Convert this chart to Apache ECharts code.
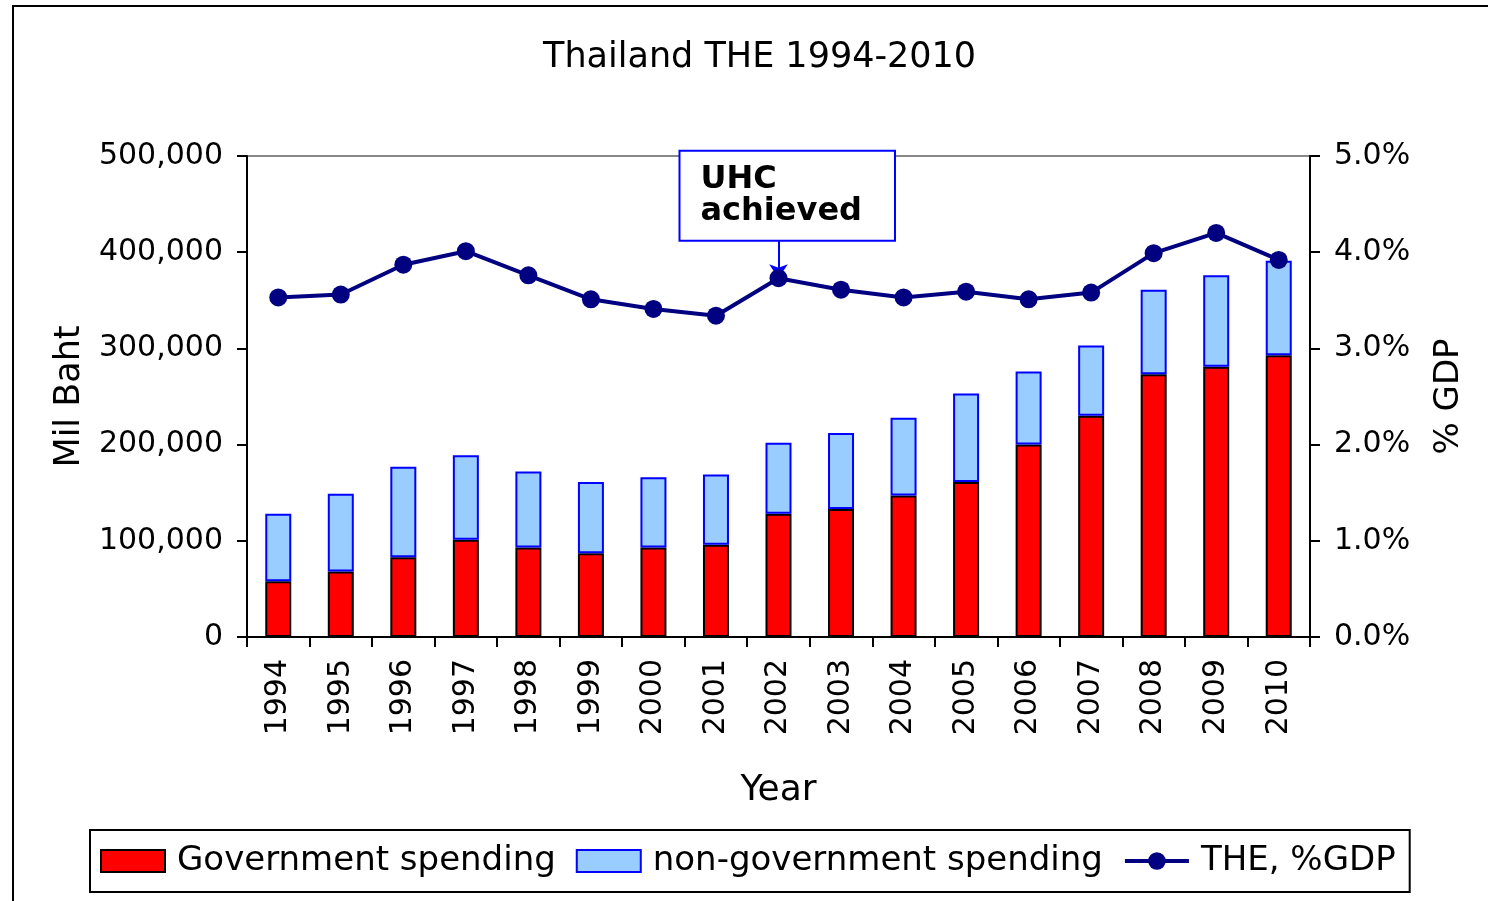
<!DOCTYPE html>
<html>
<head>
<meta charset="utf-8">
<title>Thailand THE 1994-2010</title>
<script src="https://cdn.jsdelivr.net/npm/echarts@6/dist/echarts.min.js"></script>
<style>
  html, body { margin: 0; padding: 0; background: #fff; }
  #frame {
    position: absolute; left: 12px; top: 5px;
    width: 1500px; height: 1000px;
    border: 2px solid #000; box-sizing: border-box;
  }
  #chart { position: absolute; left: 0; top: 0; width: 1488px; height: 901px; }
</style>
</head>
<body>
<div id="frame"></div>
<div id="chart"></div>
<script>
// 年份
const years = ['1994', '1995', '1996', '1997', '1998', '1999', '2000', '2001', '2002',
  '2003', '2004', '2005', '2006', '2007', '2008', '2009', '2010'];

// 政府支出 (Mil Baht)
const govSpending = [58000, 68000, 83000, 101000, 93000, 87000, 93000, 96000, 128000,
  133000, 147000, 161000, 200000, 230000, 273000, 281000, 293000];

// 非政府支出 (Mil Baht)
const nonGovSpending = [70000, 81000, 94000, 88000, 79000, 74000, 73000, 73000, 74000,
  79000, 81000, 92000, 76000, 73000, 88000, 95000, 98000];

// THE 占 GDP 百分比
const theGdp = [3.53, 3.56, 3.87, 4.01, 3.76, 3.51, 3.41, 3.34, 3.73,
  3.61, 3.53, 3.59, 3.51, 3.58, 3.99, 4.20, 3.92];

// 左右轴刻度
const leftTicks = [0, 100000, 200000, 300000, 400000, 500000];
const rightTicks = [0, 1, 2, 3, 4, 5];

// UHC 标注
const uhcYear = '2002';
const uhcLabelTop = 4.13;

const font = 'DejaVu Sans';
const uhcIndex = years.indexOf(uhcYear);

const chart = echarts.init(document.getElementById('chart'));
chart.setOption({
  animation: false,
  backgroundColor: 'transparent',
  textStyle: { fontFamily: font, color: '#000' },
  title: {
    text: 'Thailand THE 1994-2010',
    left: 538,
    top: 35,
    textStyle: { fontFamily: font, fontSize: 35, fontWeight: 'normal', color: '#000' }
  },
  legend: {
    left: 90,
    top: 830,
    padding: [14, 14, 14, 10],
    borderColor: '#000',
    borderWidth: 2,
    itemWidth: 64,
    itemHeight: 22,
    itemGap: 20,
    textStyle: { fontFamily: font, fontSize: 34, color: '#000', padding: [0, 0, 0, 7] },
    data: [
      { name: 'Government spending', icon: 'rect' },
      { name: 'non-government spending', icon: 'rect' },
      { name: 'THE, %GDP', lineStyle: { width: 4 } }
    ]
  },
  grid: {
    left: 247,
    right: 178,
    top: 156,
    bottom: 264,
    show: true,
    borderColor: '#888',
    borderWidth: 2
  },
  xAxis: {
    type: 'category',
    data: years,
    name: 'Year',
    nameLocation: 'middle',
    nameGap: 136,
    nameTextStyle: { fontFamily: font, fontSize: 36, color: '#000' },
    axisLine: { lineStyle: { color: '#000', width: 2 } },
    axisTick: { show: true, length: 10, lineStyle: { color: '#000', width: 2 } },
    axisLabel: { rotate: 90, margin: 22, fontFamily: font, fontSize: 30, color: '#000' }
  },
  yAxis: [
    {
      type: 'value',
      min: leftTicks[0],
      max: leftTicks[leftTicks.length - 1],
      interval: leftTicks[1] - leftTicks[0],
      name: 'Mil Baht',
      nameLocation: 'middle',
      nameRotate: 90,
      nameGap: 160,
      nameTextStyle: { fontFamily: font, fontSize: 35, color: '#000' },
      axisLine: { show: true, lineStyle: { color: '#000', width: 2 } },
      axisTick: { show: true, length: 10, lineStyle: { color: '#000', width: 2 } },
      splitLine: { show: false },
      axisLabel: {
        margin: 24,
        fontFamily: font,
        fontSize: 30,
        color: '#000',
        formatter: v => v.toLocaleString('en-US')
      }
    },
    {
      type: 'value',
      min: rightTicks[0],
      max: rightTicks[rightTicks.length - 1],
      interval: rightTicks[1] - rightTicks[0],
      name: '% GDP',
      nameLocation: 'middle',
      nameRotate: 90,
      nameGap: 122,
      nameTextStyle: { fontFamily: font, fontSize: 34, color: '#000' },
      axisLine: { show: true, lineStyle: { color: '#000', width: 2 } },
      axisTick: { show: true, length: 10, lineStyle: { color: '#000', width: 2 } },
      splitLine: { show: false },
      axisLabel: {
        margin: 24,
        fontFamily: font,
        fontSize: 30,
        color: '#000',
        formatter: v => v.toFixed(1) + '%'
      }
    }
  ],
  series: [
    {
      name: 'Government spending',
      type: 'bar',
      stack: 'the',
      barWidth: 26,
      data: govSpending,
      itemStyle: { color: '#ff0000', borderColor: '#000', borderWidth: 2 }
    },
    {
      name: 'non-government spending',
      type: 'bar',
      stack: 'the',
      barWidth: 26,
      data: nonGovSpending,
      itemStyle: { color: '#99ccff', borderColor: '#0000ff', borderWidth: 2 }
    },
    {
      name: 'THE, %GDP',
      type: 'line',
      yAxisIndex: 1,
      data: theGdp,
      symbol: 'circle',
      symbolSize: 18,
      z: 5,
      lineStyle: { color: '#000080', width: 4 },
      itemStyle: { color: '#000080' },
      markLine: {
        silent: true,
        animation: false,
        symbol: ['arrow', 'none'],
        symbolSize: 14,
        lineStyle: { color: '#0000ff', width: 2, type: 'solid' },
        label: {
          show: true,
          position: 'end',
          distance: 0,
          offset: [-98, 0],
          formatter: 'UHC\nachieved',
          fontFamily: font,
          fontSize: 32,
          fontWeight: 'bold',
          lineHeight: 32,
          color: '#000',
          align: 'left',
          backgroundColor: '#fff',
          borderColor: '#0000ff',
          borderWidth: 2,
          padding: [12, 32, 12, 20]
        },
        data: [[
          { coord: [uhcIndex, theGdp[uhcIndex]] },
          { coord: [uhcIndex, uhcLabelTop] }
        ]]
      }
    }
  ]
});
</script>
</body>
</html>
